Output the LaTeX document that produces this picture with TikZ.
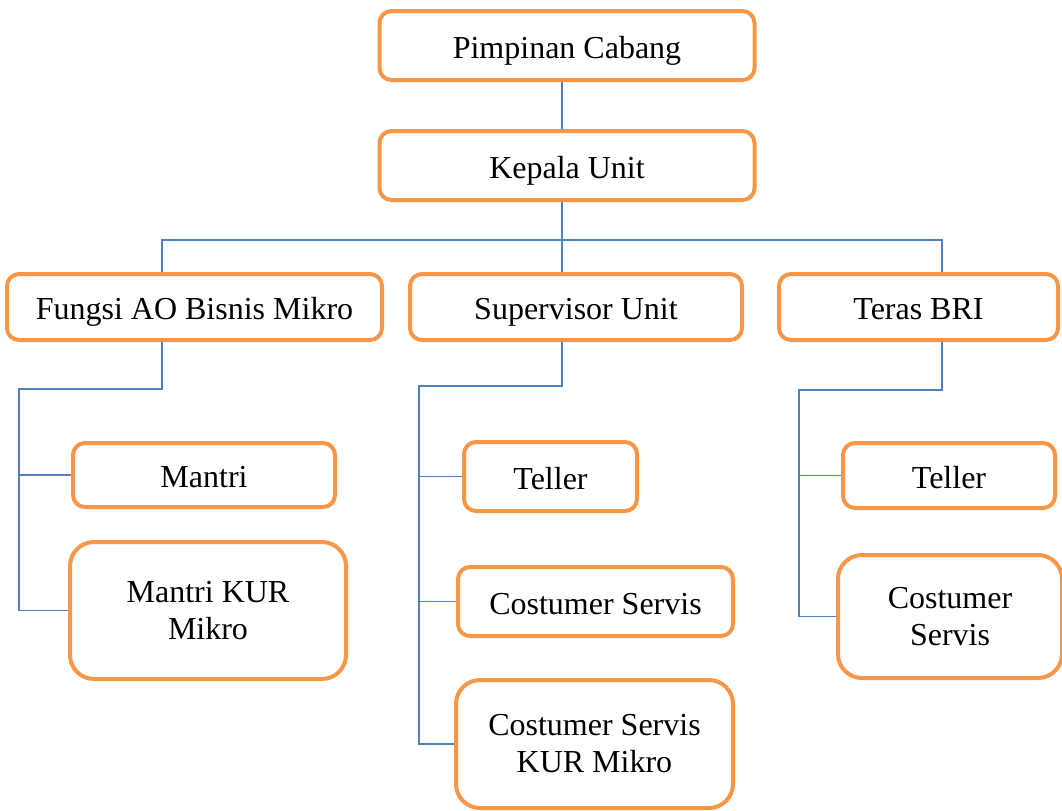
\documentclass[tikz,border=0pt]{standalone}
\usepackage{fontspec}
\setmainfont{Liberation Serif}
\usepackage{xcolor}
\usetikzlibrary{positioning,calc}
\definecolor{boxorange}{HTML}{F79646}
\definecolor{linkblue}{HTML}{4F81BD}

\begin{document}
\begin{tikzpicture}[
  x=0.5pt, y=-0.5pt,
  unit/.style={rounded corners=6pt, draw=boxorange, line width=2pt, fill=white,
               inner sep=0pt, align=center, font=\fontsize{16}{18.5}\selectfont, text=black,
               text height=16pt, text depth=3.5pt},
  tallunit/.style={rounded corners=12pt, draw=boxorange, line width=2pt, fill=white,
               inner sep=0pt, align=center, font=\fontsize{16}{18.5}\selectfont, text=black},
  link/.style={draw=linkblue, line width=0.8pt}
]
  \useasboundingbox (0,0) rectangle (1062,810);
  % top of the chart
  \node[unit, minimum width=187.5pt, minimum height=34.5pt] (pc) at (567,45.5) {Pimpinan Cabang};
  \node[unit, minimum width=187.5pt, minimum height=34.5pt] (ku) at (567,165.5) {Kepala Unit};
  % second level
  \node[unit, minimum width=187.5pt, minimum height=33pt] (ao) at (194.5,307) {Fungsi AO Bisnis Mikro};
  \node[unit, minimum width=166pt, minimum height=33pt] (sv) at (576,307) {Supervisor Unit};
  \node[unit, minimum width=139.5pt, minimum height=33pt] (tb) at (918.5,307) {Teras BRI};
  % under Fungsi AO Bisnis Mikro
  \node[unit, minimum width=131pt, minimum height=32pt] (mantri) at (204,475) {Mantri};
  \node[tallunit, minimum width=138pt, minimum height=68.5pt] (mkur) at (208,610.5) {Mantri KUR\\Mikro};
  % under Supervisor Unit
  \node[unit, minimum width=86.5pt, minimum height=34.5pt] (tl1) at (550.5,476.5) {Teller};
  \node[unit, minimum width=137.5pt, minimum height=34.5pt] (cs1) at (595.5,601.5) {Costumer Servis};
  \node[tallunit, minimum width=138.5pt, minimum height=64pt] (cskur) at (594.5,744) {Costumer Servis\\KUR Mikro};
  % under Teras BRI
  \node[unit, minimum width=106pt, minimum height=32.5pt] (tl2) at (949,475.5) {Teller};
  \node[tallunit, minimum width=112pt, minimum height=61.5pt] (cs2) at (950,616.5) {Costumer\\Servis};

  \coordinate (bar) at (562,240);
  \coordinate (barL) at (162,240);
  \coordinate (barR) at (942,240);
  \coordinate (aoS) at (19,389);
  \coordinate (svS) at (419,386);
  \coordinate (tbS) at (799,390);

  \draw[link] (pc.south -| bar) -- (ku.north -| bar);
  \draw[link] (ku.south -| bar) -- (bar);
  \draw[link] (ao.north -| barL) -- (barL) -- (barR) -- (tb.north -| barR);
  \draw[link] (bar) -- (sv.north -| bar);
  \draw[link] (ao.south -| barL) |- (aoS) |- (mkur.west);
  \draw[link] (sv.south -| bar) |- (svS) |- (cskur.west);
  \draw[link] (tb.south -| barR) |- (tbS) |- (cs2.west);
  \foreach \s/\c in {aoS/mantri,svS/tl1,svS/cs1,tbS/tl2}{\draw[link] (\s |- \c.west) -- (\c.west);}
\end{tikzpicture}
\end{document}
